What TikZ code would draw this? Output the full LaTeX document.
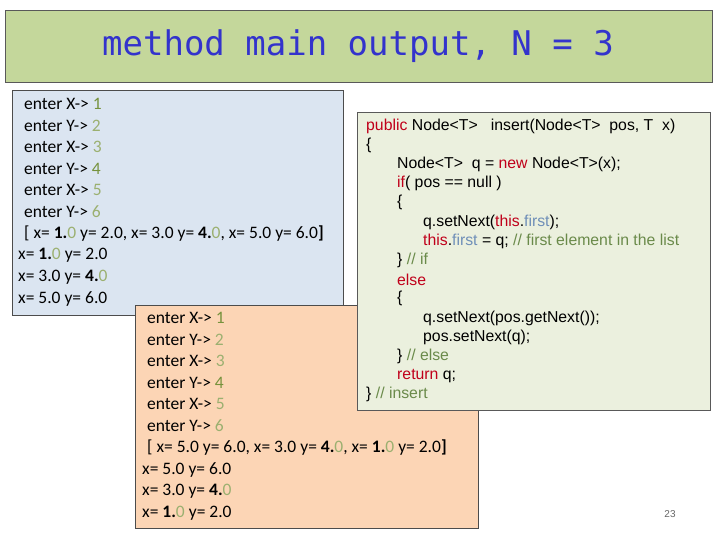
\documentclass[tikz,border=0pt]{standalone}
\usepackage{fontspec}
\setmainfont{Carlito}
\newfontfamily\codefont{Liberation Sans}
\newfontfamily\titlefont{DejaVu Sans Mono}
\definecolor{gA}{HTML}{76923C}
\definecolor{gB}{HTML}{9BB070}
\definecolor{kw}{HTML}{C0001A}
\definecolor{fld}{HTML}{6F8FB8}
\definecolor{cmt}{HTML}{6A8A4A}
\newcommand{\dA}[1]{\textcolor{gA}{#1}}
\newcommand{\dB}[1]{\textcolor{gB}{#1}}
\newcommand{\num}[2]{\textbf{#1.}\textcolor{gB}{#2}}
\begin{document}
\begin{tikzpicture}[x=1pt,y=-1pt,
  outtxt/.style={anchor=west,inner sep=0pt,font=\fontsize{17.5}{17.5}\selectfont},
  codetxt/.style={anchor=west,inner sep=0pt,font=\codefont\fontsize{15.8}{15.8}\selectfont}]
\useasboundingbox (0,0) rectangle (720,540);
\fill[white] (0,0) rectangle (720,540);
\draw[draw=gray!70!black,fill={rgb,255:red,196;green,215;blue,155}] (5,10) rectangle (712,82);
\node[inner sep=0pt,text={rgb,255:red,51;green,51;blue,204},font=\titlefont\fontsize{34}{34}\selectfont] (title) at (358,46) {method main output, N = 3};
\draw[draw=black!70,fill={rgb,255:red,219;green,229;blue,241}] (12,90) rectangle (343,315);
\foreach \t [count=\i] in {{enter X-> \dA{1}},{enter Y-> \dB{2}},{enter X-> \dB{3}},{enter Y-> \dA{4}},{enter X-> \dB{5}},{enter Y-> \dB{6}},{[ x= \num{1}{0} y= 2.0, x= 3.0 y= \num{4}{0}, x= 5.0 y= 6.0\textbf{]}}}
  \node[outtxt] (b\i) at (24,{104+21.6*(\i-1)}) {\t};
\node[outtxt] (b8) at (18,255.6) {x= \num{1}{0} y= 2.0};
\node[outtxt] (b9) at (18,277.2) {x= 3.0 y= \num{4}{0}};
\node[outtxt] (b10) at (18,298.8) {x= 5.0 y= 6.0};
\draw[draw=black!70,fill={rgb,255:red,252;green,213;blue,181}] (135,305) rectangle (478,528);
\foreach \t [count=\i] in {{enter X-> \dA{1}},{enter Y-> \dB{2}},{enter X-> \dB{3}},{enter Y-> \dA{4}},{enter X-> \dB{5}},{enter Y-> \dB{6}},{[ x= 5.0 y= 6.0, x= 3.0 y= \num{4}{0}, x= \num{1}{0} y= 2.0\textbf{]}}}
  \node[outtxt] (o\i) at (147,{318+21.6*(\i-1)}) {\t};
\node[outtxt] (o8) at (142,469.6) {x= 5.0 y= 6.0};
\node[outtxt] (o9) at (142,491.2) {x= 3.0 y= \num{4}{0}};
\node[outtxt] (o10) at (142,512.8) {x= \num{1}{0} y= 2.0};
\draw[draw=gray!70!black,fill={rgb,255:red,235;green,240;blue,222}] (357,112) rectangle (710,410);
\def\L#1#2#3{\node[codetxt] (c#1) at (#2,{126+19.2*(#1-1)}) {#3};}
\L{1}{366}{\textcolor{kw}{public} Node<T>\ \ \ insert(Node<T>\ \ pos, T\ \ x)}
\L{2}{366}{\{}
\L{3}{397}{Node<T>\ \ q = \textcolor{kw}{new} Node<T>(x);}
\L{4}{397}{\textcolor{kw}{if}( pos == null )}
\L{5}{397}{\{}
\L{6}{423}{q.setNext(\textcolor{kw}{this}.\textcolor{fld}{first});}
\L{7}{423}{\textcolor{kw}{this}.\textcolor{fld}{first} = q; \textcolor{cmt}{// first element in the list}}
\L{8}{397}{\} \textcolor{cmt}{// if}}
\L{9}{397}{\textcolor{kw}{else}}
\L{10}{397}{\{}
\L{11}{423}{q.setNext(pos.getNext());}
\L{12}{423}{pos.setNext(q);}
\L{13}{397}{\} \textcolor{cmt}{// else}}
\L{14}{397}{\textcolor{kw}{return} q;}
\L{15}{366}{\} \textcolor{cmt}{// insert}}
\node[inner sep=0pt,text=gray!80!black,font=\codefont\fontsize{10}{10}\selectfont] (pg) at (670,514) {23};
\end{tikzpicture}
\end{document}
